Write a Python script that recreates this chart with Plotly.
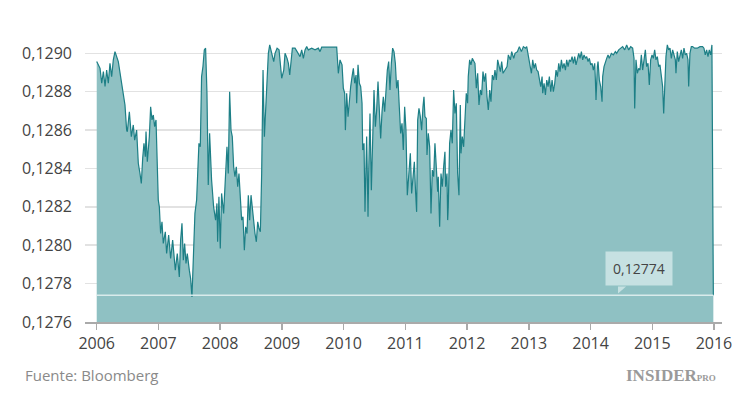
import pandas as pd
import plotly.graph_objects as go

# Decimal-year positions and exchange-rate values
years = [
2006.000,2006.054,2006.081,2006.108,2006.135,2006.161,2006.188,2006.215,2006.242,2006.269,2006.296,2006.350,
2006.404,2006.431,2006.458,2006.485,2006.496,2006.529,2006.561,2006.593,2006.615,2006.647,2006.674,2006.701,
2006.723,2006.745,2006.766,2006.788,2006.799,2006.820,2006.853,2006.874,2006.896,2006.917,2006.939,2006.961,
2006.971,2006.982,2006.998,2007.015,2007.036,2007.058,2007.079,2007.112,2007.133,2007.166,2007.198,2007.231,
2007.252,2007.274,2007.306,2007.339,2007.360,2007.382,2007.404,2007.425,2007.447,2007.468,2007.501,2007.522,
2007.544,2007.576,2007.592,2007.619,2007.636,2007.657,2007.679,2007.700,2007.722,2007.744,2007.765,2007.787,
2007.808,2007.830,2007.862,2007.895,2007.927,2007.949,2007.960,2007.981,2008.003,2008.024,2008.057,2008.089,
2008.111,2008.132,2008.154,2008.176,2008.197,2008.219,2008.240,2008.262,2008.284,2008.305,2008.327,2008.348,
2008.370,2008.392,2008.413,2008.435,2008.456,2008.478,2008.500,2008.521,2008.543,2008.564,2008.586,2008.608,
2008.629,2008.651,2008.672,2008.694,2008.716,2008.737,2008.759,2008.780,2008.802,2008.834,2008.867,2008.888,
2008.921,2008.953,2008.975,2008.996,2009.029,2009.050,2009.083,2009.104,2009.126,2009.148,2009.169,2009.212,
2009.293,2009.320,2009.347,2009.374,2009.401,2009.428,2009.482,2009.536,2009.590,2009.617,2009.644,2009.887,
2009.914,2009.941,2009.974,2009.995,2010.017,2010.028,2010.049,2010.071,2010.093,2010.114,2010.136,2010.157,
2010.179,2010.201,2010.211,2010.233,2010.255,2010.276,2010.298,2010.309,2010.330,2010.346,2010.373,2010.395,
2010.406,2010.427,2010.449,2010.471,2010.492,2010.514,2010.535,2010.557,2010.578,2010.600,2010.622,2010.643,
2010.665,2010.686,2010.708,2010.730,2010.751,2010.773,2010.794,2010.816,2010.838,2010.859,2010.881,2010.902,
2010.924,2010.946,2010.967,2010.989,2011.010,2011.032,2011.059,2011.081,2011.102,2011.124,2011.146,2011.167,
2011.183,2011.200,2011.221,2011.243,2011.264,2011.286,2011.302,2011.318,2011.340,2011.351,2011.372,2011.394,
2011.416,2011.437,2011.459,2011.480,2011.502,2011.524,2011.534,2011.556,2011.578,2011.599,2011.621,2011.642,
2011.653,2011.675,2011.686,2011.696,2011.718,2011.740,2011.761,2011.783,2011.804,2011.826,2011.848,2011.869,
2011.891,2011.902,2011.923,2011.945,2011.966,2011.988,2012.009,2012.020,2012.042,2012.063,2012.085,2012.107,
2012.128,2012.150,2012.172,2012.193,2012.215,2012.236,2012.258,2012.279,2012.301,2012.323,2012.344,2012.366,
2012.387,2012.409,2012.431,2012.452,2012.474,2012.495,2012.517,2012.539,2012.560,2012.582,2012.614,2012.647,
2012.668,2012.701,2012.722,2012.755,2012.776,2012.814,2012.846,2012.879,2012.911,2012.944,2012.965,2012.992,
2013.019,2013.041,2013.062,2013.084,2013.106,2013.127,2013.149,2013.170,2013.192,2013.214,2013.224,2013.246,
2013.268,2013.289,2013.311,2013.332,2013.354,2013.376,2013.397,2013.419,2013.440,2013.462,2013.484,2013.505,
2013.527,2013.548,2013.570,2013.592,2013.613,2013.635,2013.656,2013.678,2013.700,2013.721,2013.743,2013.764,
2013.786,2013.808,2013.829,2013.851,2013.872,2013.894,2013.916,2013.937,2013.959,2013.980,2014.002,2014.024,
2014.045,2014.067,2014.078,2014.088,2014.110,2014.121,2014.142,2014.164,2014.186,2014.196,2014.218,2014.240,
2014.261,2014.283,2014.304,2014.337,2014.369,2014.402,2014.423,2014.456,2014.488,2014.520,2014.553,2014.585,
2014.618,2014.650,2014.682,2014.704,2014.715,2014.736,2014.758,2014.780,2014.801,2014.823,2014.844,2014.866,
2014.888,2014.909,2014.931,2014.952,2014.974,2014.996,2015.017,2015.039,2015.060,2015.082,2015.104,2015.125,
2015.147,2015.168,2015.185,2015.201,2015.222,2015.244,2015.266,2015.287,2015.309,2015.330,2015.352,2015.374,
2015.384,2015.406,2015.427,2015.449,2015.471,2015.492,2015.514,2015.535,2015.557,2015.579,2015.590,2015.611,
2015.633,2015.654,2015.687,2015.730,2015.773,2015.816,2015.838,2015.859,2015.881,2015.903,2015.924,2015.946,
2015.967,2015.990,
]

rates = [
0.128957,0.128922,0.128844,0.128905,0.128827,0.128913,0.128844,0.128948,0.128879,0.128966,0.129009,0.128957,
0.128844,0.128774,0.128731,0.128600,0.128592,0.128696,0.128566,0.128627,0.128548,0.128600,0.128427,0.128374,
0.128322,0.128453,0.128531,0.128461,0.128592,0.128435,0.128566,0.128722,0.128653,0.128679,0.128618,0.128653,
0.128548,0.128374,0.128235,0.128200,0.128061,0.128122,0.128009,0.128070,0.127957,0.128053,0.127931,0.128027,
0.127957,0.127870,0.127957,0.127835,0.128027,0.128114,0.127922,0.128009,0.127905,0.127957,0.127870,0.127827,
0.127731,0.128096,0.128166,0.128235,0.128392,0.128531,0.128513,0.128879,0.128931,0.129018,0.129027,0.128792,
0.128314,0.128583,0.128340,0.128200,0.128131,0.128218,0.128018,0.128253,0.127983,0.128270,0.128166,0.128374,
0.128513,0.128374,0.128800,0.128600,0.128566,0.128409,0.128357,0.128409,0.128305,0.128374,0.128270,0.128131,
0.128148,0.127974,0.128096,0.128061,0.128261,0.128131,0.128261,0.128183,0.128131,0.128061,0.128018,0.128122,
0.128087,0.128070,0.128374,0.128913,0.128566,0.128722,0.128931,0.129000,0.129044,0.129000,0.128957,0.129000,
0.129027,0.129018,0.128931,0.128870,0.128913,0.129000,0.128974,0.128948,0.128887,0.128966,0.129027,0.129027,
0.128983,0.129018,0.128974,0.129018,0.129035,0.129018,0.129027,0.129018,0.129027,0.129009,0.129032,0.129032,
0.128896,0.128966,0.128940,0.128818,0.128792,0.128600,0.128792,0.128670,0.128766,0.128827,0.128879,0.128922,
0.128844,0.128887,0.128740,0.128940,0.128844,0.128827,0.128740,0.128496,0.128531,0.128174,0.128566,0.128148,
0.128374,0.128687,0.128287,0.128548,0.128809,0.128618,0.128705,0.128853,0.128670,0.128557,0.128696,0.128774,
0.128696,0.128792,0.128913,0.128957,0.128809,0.128948,0.129027,0.129009,0.128948,0.128818,0.128861,0.128722,
0.128583,0.128635,0.128496,0.128722,0.128600,0.128261,0.128374,0.128479,0.128270,0.128374,0.128435,0.128270,
0.128174,0.128653,0.128713,0.128670,0.128600,0.128722,0.128774,0.128670,0.128661,0.128470,0.128583,0.128513,
0.128166,0.128392,0.128357,0.128531,0.128374,0.128279,0.128357,0.128096,0.128374,0.128305,0.128409,0.128487,
0.128305,0.128374,0.128131,0.128200,0.128531,0.128600,0.128531,0.128809,0.128687,0.128740,0.128374,0.128261,
0.128731,0.128479,0.128566,0.128513,0.128653,0.128792,0.128740,0.128879,0.128966,0.128940,0.128974,0.128957,
0.128948,0.128818,0.128896,0.128731,0.128809,0.128783,0.128905,0.128853,0.128896,0.128774,0.128705,0.128809,
0.128748,0.128887,0.128861,0.128913,0.128861,0.128966,0.128940,0.128905,0.128957,0.128896,0.128913,0.128931,
0.128992,0.128966,0.129009,0.128974,0.129000,0.129009,0.129035,0.129009,0.129035,0.129027,0.129035,0.128992,
0.128948,0.128896,0.128966,0.128922,0.128948,0.128913,0.128905,0.128861,0.128827,0.128879,0.128792,0.128844,
0.128783,0.128861,0.128827,0.128879,0.128800,0.128861,0.128800,0.128844,0.128913,0.128879,0.128948,0.128905,
0.128966,0.128922,0.128948,0.128913,0.128966,0.128931,0.128966,0.128957,0.128983,0.128948,0.128983,0.128940,
0.128974,0.129000,0.128974,0.129009,0.128966,0.128992,0.128974,0.128983,0.128957,0.128974,0.128940,0.128948,
0.128913,0.128948,0.128861,0.128757,0.128931,0.128957,0.128861,0.128827,0.128748,0.128879,0.128931,0.128957,
0.128974,0.128992,0.128974,0.129000,0.128992,0.129009,0.129000,0.129018,0.129027,0.129035,0.129018,0.129044,
0.129018,0.129035,0.129027,0.128974,0.128713,0.128966,0.128896,0.128922,0.128913,0.128992,0.128913,0.128966,
0.129018,0.128931,0.128948,0.128835,0.128966,0.128992,0.128974,0.129018,0.128966,0.128983,0.128931,0.128940,
0.128879,0.128827,0.128687,0.128861,0.128983,0.129044,0.129018,0.129027,0.128974,0.129018,0.128992,0.128966,
0.128896,0.129009,0.128957,0.128992,0.129018,0.128974,0.129027,0.128992,0.129000,0.128966,0.128827,0.129000,
0.129035,0.129035,0.129027,0.129027,0.129035,0.129035,0.129027,0.128992,0.129018,0.128983,0.129018,0.128992,
0.129044,0.12774,
]

y_ticks = [0.1276, 0.1278, 0.1280, 0.1282, 0.1284, 0.1286, 0.1288, 0.1290]
year_ticks = list(range(2006, 2017))
last_label = "0,12774"
last_value = 0.12774
source_text = "Fuente: Bloomberg"


def to_date(y):
    yr = int(y)
    start = pd.Timestamp(f"{yr}-01-01")
    end = pd.Timestamp(f"{yr + 1}-01-01")
    return start + (end - start) * (y - yr)


dates = [to_date(y) for y in years]
tick_dates = [pd.Timestamp(f"{y}-01-01") for y in year_ticks]

FILL = "#8fc1c3"
LINE = "#1d7f86"
BOX = "#c6e1e2"

fig = go.Figure()
fig.add_trace(go.Scatter(
    x=dates, y=rates, mode="lines", fill="tozeroy",
    fillcolor=FILL, line=dict(color=LINE, width=1.2),
    hoverinfo="skip", showlegend=False,
))

# reference line at last value
fig.add_trace(go.Scatter(
    x=[dates[0], dates[-1]], y=[last_value, last_value], mode="lines",
    line=dict(color="rgba(225,240,240,0.9)", width=1.5),
    hoverinfo="skip", showlegend=False,
))

# callout pointer
px = [to_date(2014.445), to_date(2014.445), to_date(2014.575), to_date(2014.445)]
py = [0.127785, 0.127748, 0.127785, 0.127785]
fig.add_trace(go.Scatter(
    x=px, y=py, mode="lines", fill="toself", fillcolor=BOX,
    line=dict(color=BOX, width=0), hoverinfo="skip", showlegend=False,
))

fig.add_annotation(
    x=to_date(2014.78), y=last_value, xref="x", yref="y",
    text=last_label, showarrow=False, yanchor="bottom", yshift=9,
    bgcolor=BOX, borderpad=7,
    font=dict(family="Open Sans", size=14, color="#444"),
)

fig.add_annotation(
    x=-0.097, y=-0.188, xref="paper", yref="paper", xanchor="left", yanchor="middle",
    text=source_text, showarrow=False,
    font=dict(family="Open Sans", size=15, color="#8a8a8a"),
)
fig.add_annotation(
    x=0.993, y=-0.19, xref="paper", yref="paper", xanchor="right", yanchor="middle",
    text="<b>INSIDER</b><span style='font-size:9px'><b>PRO</b></span>", showarrow=False,
    font=dict(family="Liberation Serif", size=17, color="#9a9a9a"),
)

fig.update_layout(
    width=750, height=394,
    margin=dict(l=85, r=28, t=38, b=72),
    paper_bgcolor="white", plot_bgcolor="white",
    separators=", ",
    font=dict(family="Open Sans", size=16, color="#444"),
    xaxis=dict(
        type="date", automargin=False,
        range=[to_date(2005.81), to_date(2016.13)],
        tickvals=tick_dates, ticktext=[str(y) for y in year_ticks],
        ticks="outside", ticklen=6, tickcolor="#aaa", tickwidth=1.5,
        showline=True, linecolor="#aaa", linewidth=1.5,
        showgrid=False, zeroline=False,
        tickfont=dict(size=16, color="#444"),
    ),
    yaxis=dict(
        range=[0.1276, 0.12908], automargin=False,
        tickvals=y_ticks, tickformat=".4f",
        showgrid=True, gridcolor="#e2e2e2", gridwidth=1.5,
        zeroline=False, showline=False, ticks="",
        ticklabelstandoff=12,
        tickfont=dict(size=16, color="#444"),
    ),
)

fig.write_html(
    "out.html",
    config={"displayModeBar": False, "staticPlot": True},
    post_script="document.body.style.margin='0';document.body.style.overflow='hidden';",
)
